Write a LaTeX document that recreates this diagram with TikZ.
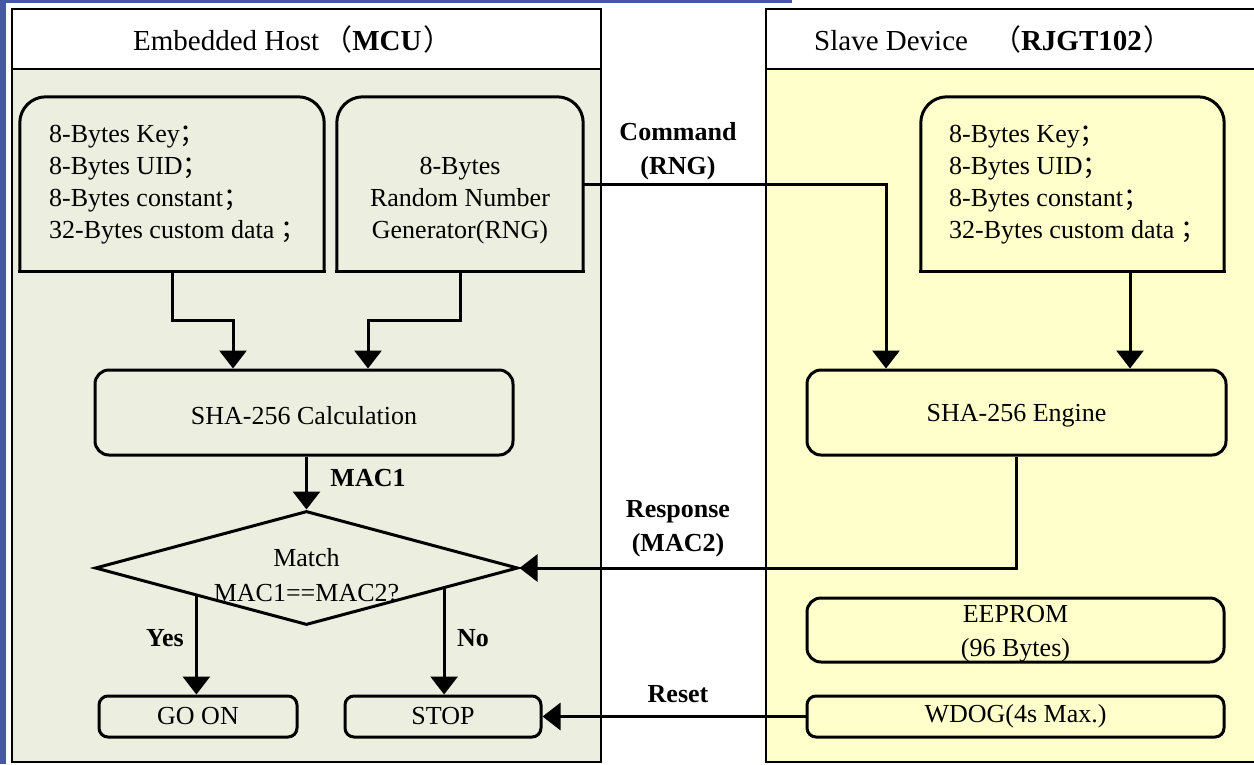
\documentclass[tikz,border=0pt]{standalone}
\usepackage{fontspec}
\setmainfont{Liberation Serif}
\newfontfamily\cjk{Noto Sans CJK SC}
\usetikzlibrary{shapes.geometric,arrows.meta,calc}
\definecolor{hostbg}{HTML}{ECEEDF}
\definecolor{slavebg}{HTML}{FFFFCC}
\definecolor{bluebar}{HTML}{4459A3}
\newcommand{\fsc}{{\cjk ；}}
\begin{document}
\begin{tikzpicture}[x=1pt,y=-1pt,
  txt/.style={font=\fontsize{26}{32}\selectfont, align=left, inner sep=0pt},
  ctxt/.style={font=\fontsize{26}{32}\selectfont, align=center, inner sep=0pt},
  head/.style={font=\fontsize{29}{34}\selectfont, inner sep=0pt, anchor=base west},
  lbl/.style={font=\bfseries\fontsize{26}{34}\selectfont, align=center, inner sep=0pt},
  procbox/.style={draw, line width=3pt, rounded corners=14pt, inner sep=0pt},
  smallbox/.style={draw, line width=3pt, rounded corners=9pt, inner sep=0pt, font=\fontsize{26}{32}\selectfont, align=center},
  tallframe/.style={line width=3pt, rounded corners=26pt, line cap=rect},
  arr/.style={line width=3pt, -{Triangle[length=18pt,width=27pt]}},
  panel/.style={line width=1.5pt}
]
\useasboundingbox (0,0) rectangle (1254,764);
\fill[white] (0,0) rectangle (1254,764);
% blue bars
\fill[bluebar] (0,0) rectangle (6,764);
\fill[bluebar] (0,0) rectangle (792,2.5);
% panels
\draw[panel, fill=hostbg] (12,9) rectangle (601,762);
\draw[panel, fill=white] (12,9) rectangle (601,69);
\draw[line width=2.5pt] (12,69) -- (601,69);
\draw[panel, fill=slavebg] (766,9) rectangle (1270,762);
\draw[panel, fill=white] (766,9) rectangle (1270,69);
\draw[line width=2.5pt] (766,69) -- (1270,69);
\node[head] (hhost) at (133,50) {Embedded Host\hspace{4pt}{\cjk （}\textbf{MCU}\hspace{2pt}{\cjk ）}};
\node[head] (hslave) at (814,50) {Slave Device\hspace{24pt}{\cjk （}\textbf{RJGT102}\hspace{2pt}{\cjk ）}};

% top boxes
\node[minimum width=304pt, minimum height=174pt, inner sep=0pt] (box1) at (172,184) {};
\node[txt] (box1t) at (178,185) {8-Bytes Key\fsc\\8-Bytes UID\fsc\\8-Bytes constant\fsc\\32-Bytes custom data \fsc};
\draw[tallframe] (box1.south west) -- (box1.north west) -- (box1.north east) -- (box1.south east);
\draw[line width=3pt, line cap=rect] (box1.south west) -- (box1.south east);

\node[minimum width=246pt, minimum height=174pt, inner sep=0pt] (box2) at (460,184) {};
\node[ctxt] (box2t) at (460,201) {8-Bytes\\Random Number\\Generator(RNG)};
\draw[tallframe] (box2.south west) -- (box2.north west) -- (box2.north east) -- (box2.south east);
\draw[line width=3pt, line cap=rect] (box2.south west) -- (box2.south east);

\node[minimum width=303pt, minimum height=174pt, inner sep=0pt] (key) at (1072.5,184) {};
\node[txt] (keyt) at (1078,185) {8-Bytes Key\fsc\\8-Bytes UID\fsc\\8-Bytes constant\fsc\\32-Bytes custom data \fsc};
\draw[tallframe] (key.south west) -- (key.north west) -- (key.north east) -- (key.south east);
\draw[line width=3pt, line cap=rect] (key.south west) -- (key.south east);

% process boxes
\node[procbox, minimum width=418pt, minimum height=85pt] (sha) at (304,412.5) {};
\node[ctxt] (shat) at (304,416) {SHA-256 Calculation};
\node[procbox, minimum width=419pt, minimum height=85pt] (engine) at (1016.5,412.5) {};
\node[ctxt] (enginet) at (1016.5,416) {SHA-256 Engine};
\node[procbox, minimum width=417pt, minimum height=64pt] (eeprom) at (1015.5,630) {};
\node[ctxt] (eepromt) at (1015.5,634) {EEPROM\\[2pt](96 Bytes)};
\node[smallbox, minimum width=417pt, minimum height=41pt] (wdog) at (1015.5,716.5) {WDOG(4s Max.)};
\node[smallbox, minimum width=198pt, minimum height=41pt] (goon) at (198,716.5) {GO ON};
\node[smallbox, minimum width=196pt, minimum height=41pt] (stop) at (443,716.5) {STOP};

% diamond
\node[draw, diamond, line width=3pt, minimum width=423pt, minimum height=114pt, inner sep=0pt] (dia) at (306.5,568) {};
\node[ctxt] (diat) at (306.5,575) {Match\\[3pt]MAC1==MAC2?};

% connectors
\coordinate (j1) at (233,320);
\coordinate (j2) at (368,320);
\draw[arr] (box1.south) |- (j1) -- (j1 |- sha.north);
\draw[arr] (box2.south) |- (j2) -- (j2 |- sha.north);
\draw[arr] (sha.south -| dia.north) -- (dia.north);
\node[lbl] (mac1) at (368,478) {MAC1};

\coordinate (cmd) at (886,184);
\draw[arr] (box2.east) -- (cmd) -- (cmd |- engine.north);
\node[lbl] (cmdl) at (678,151) {Command\\(RNG)};

\coordinate (kx) at (1130,271);
\draw[arr] (kx) -- (kx |- engine.north);

\draw[arr] (engine.south) |- (dia.east);
\node[lbl] (resp) at (678,529) {Response\\(MAC2)};

\coordinate (ys) at ($(dia.west)!0.483!(dia.south)$);
\coordinate (ns) at ($(dia.south)!0.646!(dia.east)$);
\draw[arr] (ys) -- (ys |- goon.north);
\draw[arr] (ns) -- (ns |- stop.north);
\node[lbl] (yes) at (165,638) {Yes};
\node[lbl] (no) at (473,638) {No};

\draw[arr] (wdog.west) -- (stop.east);
\node[lbl] (reset) at (678,694) {Reset};
\end{tikzpicture}
\end{document}
